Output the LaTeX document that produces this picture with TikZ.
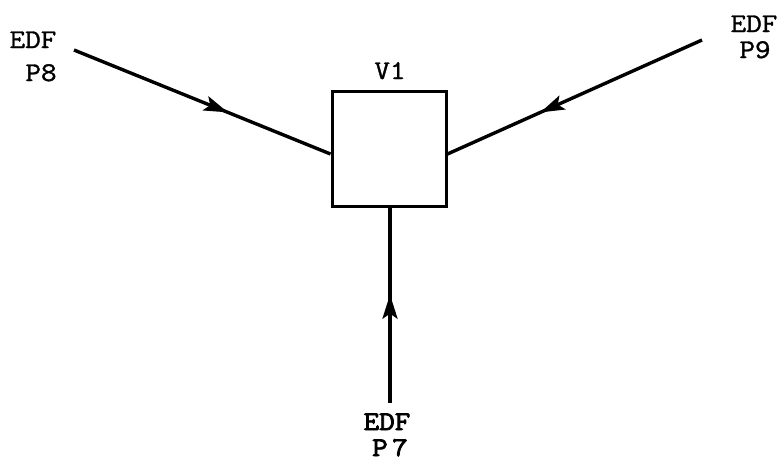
\documentclass[tikz,border=0pt]{standalone}
\usepackage{fontspec}
\newfontfamily\reftt[FakeStretch=1.12,FakeBold=1.3]{Latin Modern Mono}
\newfontfamily\refttb[FakeStretch=1.12,FakeBold=3]{Latin Modern Mono}
\usetikzlibrary{arrows.meta,decorations.markings}
\begin{document}
\begin{tikzpicture}[x=1pt,y=-1pt,
  lbl/.style={font=\reftt\fontsize{27}{30}\selectfont, inner sep=0pt, anchor=base},
  blbl/.style={font=\refttb\fontsize{27}{30}\selectfont, inner sep=0pt, anchor=base},
  box/.style={draw, line width=3pt, minimum width=114pt, minimum height=115pt, inner sep=0pt},
  flow/.style={line width=3.4pt, postaction={decorate},
    decoration={markings, mark=at position #1 with {\arrow{Stealth[length=24pt,width=15pt,inset=5pt]}}}},
]
\useasboundingbox (0,0) rectangle (778,459);
\node[box] (v1) at (389,148.5) {};
\node[lbl] (v1l) at (390,79) {V1};
\node[lbl] (e8) at (33,48) {EDF};
\node[lbl] (p8) at (41,81) {P8};
\node[lbl] (e9) at (754,32) {EDF};
\node[lbl] (p9) at (755,58) {P9};
\node[blbl] (e7) at (387,430) {EDF};
\node[blbl] (p7) at (390,456) {P\,7};
\coordinate (s8) at (74,50);
\coordinate (s9) at (702,40);
\coordinate (s7) at (390,403);
\coordinate (t8) at ([yshift=-5.5pt]v1.west);
\coordinate (t9) at ([yshift=-5.5pt]v1.east);
\coordinate (t7) at (390,206);
\draw[flow=0.6] (s8) -- (t8);
\draw[flow=0.635] (s9) -- (t9);
\draw[flow=0.55] (s7) -- (t7);
\end{tikzpicture}
\end{document}
